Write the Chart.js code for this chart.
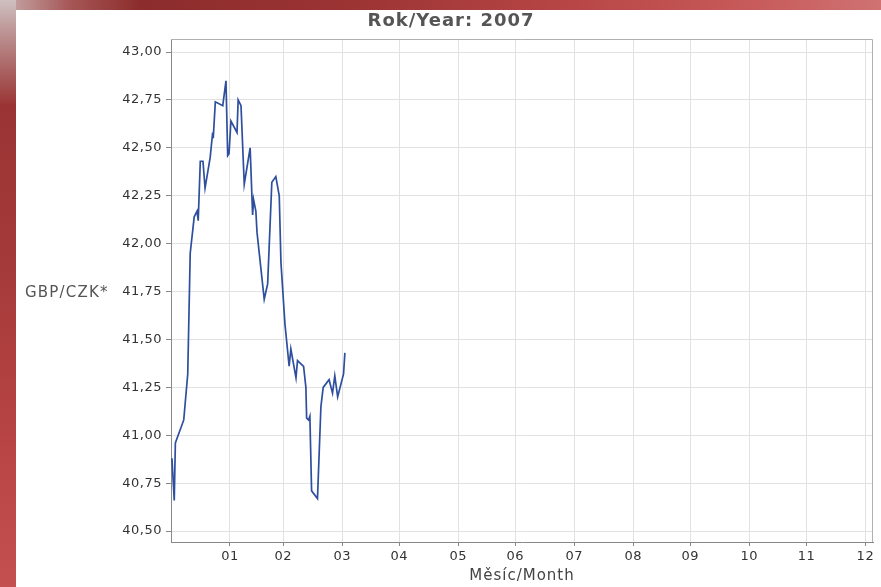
<!DOCTYPE html>
<html>
<head>
<meta charset="utf-8">
<script src="https://cdn.jsdelivr.net/npm/chart.js@4/dist/chart.umd.min.js"></script>
<style>
    html, body { margin: 0; padding: 0; width: 881px; height: 587px; overflow: hidden; }
    #frame { position: relative; width: 881px; height: 587px; background: #fff; }
    #topBand {
        position: absolute; left: 0; top: 0; width: 881px; height: 10px;
        background: linear-gradient(to right, #c9b0b0 0%, #a65656 8%, #8c2c2c 16%, #9c3434 40%, #b84646 65%, #c75a5a 85%, #cf7272 100%);
    }
    #leftBand {
        position: absolute; left: 0; top: 0; width: 16px; height: 587px;
        background: linear-gradient(to bottom, #cfc0c0 0%, #bb9090 6%, #9a3434 18%, #a53a3a 45%, #b84444 75%, #c45050 100%);
    }
    #chart { position: absolute; left: 0; top: 0; }
</style>
</head>
<body>
<div id="frame">
    <div id="topBand"></div>
    <div id="leftBand"></div>
    <canvas id="chart" width="881" height="587"></canvas>
</div>
<script>
// Data (day of year 2007, GBP/CZK rate)
const days = [0.5, 1.7, 2.3, 6.7, 8.8, 10.1, 12.2, 13.7, 14.3, 15.4, 16.8, 17.9, 20.6, 21.9, 22.2, 23.3,
    27.2, 28.9, 29.8, 30.5, 31.5, 34.7, 35.3, 36.8, 38.5, 41.6, 42.9, 43.4, 44.6, 45.2, 49.0, 50.8,
    53.0, 55.1, 56.9, 57.8, 59.9, 62.1, 63.0, 65.7, 66.5, 69.7, 70.9, 71.3, 72.3, 73.0, 73.9, 77.0,
    78.8, 80.0, 83.1, 84.9, 86.1, 87.6, 90.7, 91.4];
const rates = [40.88, 40.66, 40.96, 41.08, 41.32, 41.95, 42.14, 42.17, 42.12, 42.43, 42.43, 42.29, 42.45, 42.58, 42.55, 42.74,
    42.72, 42.85, 42.46, 42.47, 42.64, 42.58, 42.75, 42.72, 42.31, 42.50, 42.15, 42.23, 42.17, 42.06, 41.71, 41.79,
    42.32, 42.35, 42.25, 41.90, 41.58, 41.36, 41.45, 41.30, 41.39, 41.36, 41.25, 41.09, 41.08, 41.10, 40.71, 40.67,
    41.15, 41.25, 41.29, 41.22, 41.31, 41.20, 41.32, 41.43];

// Axes
const monthTicks = [31, 59, 90, 120, 151, 181, 212, 243, 273, 304, 334, 365];
const monthLabels = ['01', '02', '03', '04', '05', '06', '07', '08', '09', '10', '11', '12'];
const rateTicks = [40.5, 40.75, 41.0, 41.25, 41.5, 41.75, 42.0, 42.25, 42.5, 42.75, 43.0];

const FONT = '"DejaVu Sans", "Liberation Sans", sans-serif';

const extraText = {
    id: 'extraText',
    beforeDraw(chart) {
        // slightly wider letter spacing, like the original Lucida-style labels
        chart.ctx.letterSpacing = '0.5px';
    },
    afterDraw(chart) {
        const { ctx, chartArea } = chart;
        ctx.save();
        // plot border
        ctx.strokeStyle = '#b0b0b0';
        ctx.lineWidth = 1;
        ctx.beginPath();
        ctx.moveTo(chartArea.left, chartArea.top + 0.5);
        ctx.lineTo(chartArea.right - 0.5, chartArea.top + 0.5);
        ctx.lineTo(chartArea.right - 0.5, chartArea.bottom);
        ctx.stroke();
        // title
        ctx.fillStyle = '#555';
        ctx.font = 'bold 18px ' + FONT;
        ctx.letterSpacing = '1px';
        ctx.textAlign = 'center';
        ctx.textBaseline = 'middle';
        ctx.fillText('Rok/Year: 2007', 451, 21);
        // y axis label (horizontal)
        ctx.fillStyle = '#555';
        ctx.font = '15px ' + FONT;
        ctx.letterSpacing = '1.2px';
        ctx.textAlign = 'left';
        ctx.fillText('GBP/CZK*', 25, 293);
        // x axis label
        ctx.fillStyle = '#444';
        ctx.font = '15px ' + FONT;
        ctx.letterSpacing = '1px';
        ctx.textAlign = 'center';
        ctx.fillText('Měsíc/Month', 522, 576);
        ctx.restore();
    },
};

new Chart(document.getElementById('chart').getContext('2d'), {
    type: 'line',
    data: {
        datasets: [{
            data: days.map((d, i) => ({ x: d, y: rates[i] })),
            borderColor: '#2d4f9e',
            borderWidth: 1.7,
            pointRadius: 0,
            tension: 0,
            fill: false,
        }],
    },
    options: {
        responsive: false,
        animation: false,
        layout: { padding: { left: 0, right: 8, top: 39, bottom: 0 } },
        plugins: {
            legend: { display: false },
            tooltip: { enabled: false },
        },
        scales: {
            x: {
                type: 'linear',
                min: 0,
                max: 369,
                afterBuildTicks: (scale) => { scale.ticks = monthTicks.map((v) => ({ value: v })); },
                afterFit: (scale) => { scale.height = 45; },
                ticks: {
                    autoSkip: false,
                    maxRotation: 0,
                    padding: 3,
                    color: '#333',
                    font: { family: FONT, size: 13 },
                    callback: (v) => monthLabels[monthTicks.indexOf(v)],
                },
                grid: {
                    color: '#e2e2e2',
                    borderDash: [2, 2],
                    tickColor: '#888',
                    tickLength: 4,
                    tickBorderDash: [],
                },
                border: { display: true, color: '#888', width: 1 },
            },
            y: {
                min: 40.443,
                max: 43.068,
                afterBuildTicks: (scale) => { scale.ticks = rateTicks.map((v) => ({ value: v })); },
                afterFit: (scale) => { scale.width = 171; },
                ticks: {
                    padding: 4,
                    color: '#333',
                    font: { family: FONT, size: 13 },
                    callback: (v) => v.toFixed(2).replace('.', ','),
                },
                grid: {
                    color: '#e2e2e2',
                    borderDash: [2, 2],
                    tickColor: '#888',
                    tickLength: 5,
                    tickBorderDash: [],
                },
                border: { display: true, color: '#888', width: 1 },
            },
        },
    },
    plugins: [extraText],
});
</script>
</body>
</html>
